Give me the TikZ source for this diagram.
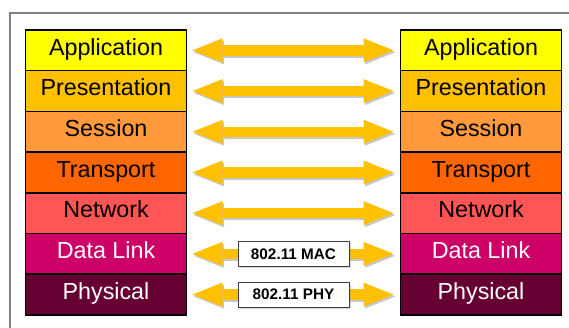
\documentclass[tikz,border=0pt]{standalone}
\usepackage{fontspec}
\setmainfont{Liberation Sans}
\usetikzlibrary{arrows.meta,positioning,shadows}

\definecolor{appc}{HTML}{FFFF00}
\definecolor{prec}{HTML}{FFC000}
\definecolor{sesc}{HTML}{FF9A3C}
\definecolor{trac}{HTML}{FF6600}
\definecolor{netc}{HTML}{FF5555}
\definecolor{datc}{HTML}{CC0066}
\definecolor{phyc}{HTML}{660033}
\definecolor{arrc}{HTML}{FFC000}

\begin{document}
\begin{tikzpicture}[
  x=1pt,y=1pt,
  layer/.style={draw=black,line width=1.5pt,minimum width=161pt,minimum height=40.7pt,
                inner sep=0pt,outer sep=0pt,text height=16.5pt,text depth=7pt,
                font=\fontsize{23.3}{27}\selectfont},
  link/.style={draw=arrc,line width=10.5pt,
               {Triangle[length=30pt,width=24pt,line width=0pt]}-{Triangle[length=30pt,width=24pt,line width=0pt]},
               shorten <=6pt,shorten >=7pt},
  linkshade/.style={link,draw=black!22,transform canvas={shift={(1.5pt,-2pt)}}},
  tag/.style={draw=black!75,fill=white,line width=0.6pt,minimum width=111pt,minimum height=25pt,
              inner sep=0pt,text height=10.5pt,text depth=0pt,
              font=\fontsize{15.3}{17}\selectfont\bfseries,
              drop shadow={shadow xshift=1.5pt,shadow yshift=-1.5pt,opacity=0.3}},
  frame/.style={draw=black!50,line width=1.2pt}
]
\useasboundingbox (0,0) rectangle (569,-327);
\draw[frame] (10,-335) |- (580,-13);

% left stack
\node[layer,fill=appc] (lapp) at (106,-50.35) {Application};
\node[layer,fill=prec,below=0pt of lapp] (lpre) {Presentation};
\node[layer,fill=sesc,below=0pt of lpre] (lses) {Session};
\node[layer,fill=trac,below=0pt of lses] (ltra) {Transport};
\node[layer,fill=netc,below=0pt of ltra] (lnet) {Network};
\node[layer,fill=datc,text=white,below=0pt of lnet] (ldat) {Data Link};
\node[layer,fill=phyc,text=white,below=0pt of ldat] (lphy) {Physical};

% right stack
\node[layer,fill=appc,right=214pt of lapp] (rapp) {Application};
\node[layer,fill=prec,below=0pt of rapp] (rpre) {Presentation};
\node[layer,fill=sesc,below=0pt of rpre] (rses) {Session};
\node[layer,fill=trac,below=0pt of rses] (rtra) {Transport};
\node[layer,fill=netc,below=0pt of rtra] (rnet) {Network};
\node[layer,fill=datc,text=white,below=0pt of rnet] (rdat) {Data Link};
\node[layer,fill=phyc,text=white,below=0pt of rdat] (rphy) {Physical};

% peer arrows
\foreach \n in {app,pre,ses,tra,net,dat,phy}{\draw[linkshade] (l\n) -- (r\n);}
\foreach \n in {app,pre,ses,tra,net}{\draw[link] (l\n) -- (r\n);}
\draw[link] (ldat) -- node[tag] (mac) {802.11 MAC} (rdat);
\draw[link] (lphy) -- node[tag] (phy) {802.11 PHY} (rphy);
\end{tikzpicture}
\end{document}
